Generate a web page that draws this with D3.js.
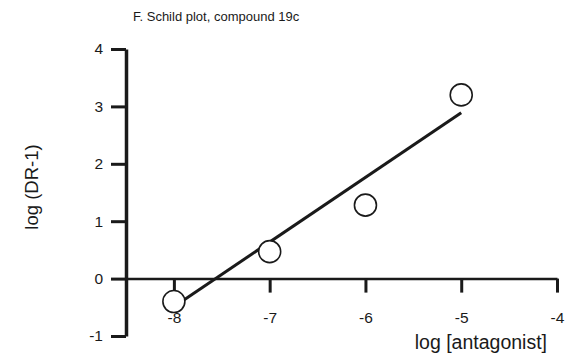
<!DOCTYPE html>
<html>
<head>
<meta charset="utf-8">
<script src="https://cdn.jsdelivr.net/npm/d3@7"></script>
<style>
  body { margin: 0; background: #fff; }
  svg text { font-family: "Liberation Sans", Arial, sans-serif; fill: #1a1a1a; }
</style>
</head>
<body>
<div id="chart"></div>
<script>
// data
const antagonistLog = [-8, -7, -6, -5];
const drValues = [-0.4, 0.47, 1.28, 3.2];
const fitX = [-8, -5];
const fitY = [-0.49, 2.89];
const xTicks = [-8, -7, -6, -5, -4];
const yTicks = [-1, 0, 1, 2, 3, 4];

const drawChart = () => {
  const width = 576;
  const height = 357;
  const plain = d => String(d);

  const x = d3.scaleLinear()
      .domain([-8.5, -4])
      .range([126, 557]);

  const y = d3.scaleLinear()
      .domain([-1, 4])
      .range([336, 49]);

  const svg = d3.select("#chart")
      .append("svg")
      .attr("width", width)
      .attr("height", height);

  svg.append("text")
      .attr("x", 133)
      .attr("y", 21)
      .attr("font-size", 13)
      .text("F. Schild plot, compound 19c");

  const yAxis = svg.append("g")
      .attr("transform", `translate(${x(-8.5)},0)`)
      .call(d3.axisLeft(y).tickValues(yTicks).tickSize(15).tickSizeOuter(0).tickPadding(8).tickFormat(plain));
  yAxis.select(".domain").attr("stroke-width", 3.5).attr("stroke", "#1a1a1a");
  yAxis.selectAll(".tick line").attr("stroke-width", 3).attr("stroke", "#1a1a1a");
  yAxis.selectAll(".tick text").attr("font-size", 15.5).attr("font-family", null);

  const xAxis = svg.append("g")
      .attr("transform", `translate(0,${y(0)})`)
      .call(d3.axisBottom(x).tickValues(xTicks).tickSize(14).tickSizeOuter(0).tickPadding(19).tickFormat(plain));
  xAxis.select(".domain").attr("stroke-width", 2.5).attr("stroke", "#1a1a1a");
  xAxis.selectAll(".tick line").attr("stroke-width", 3).attr("stroke", "#1a1a1a");
  xAxis.selectAll(".tick text").attr("font-size", 15.5).attr("font-family", null);

  svg.append("text")
      .attr("x", 547)
      .attr("y", 349)
      .attr("text-anchor", "end")
      .attr("font-size", 19.5)
      .text("log [antagonist]");

  svg.append("text")
      .attr("transform", "translate(38,187) rotate(-90)")
      .attr("text-anchor", "middle")
      .attr("font-size", 18.5)
      .text("log (DR-1)");

  const line = d3.line()
      .x((d, i) => x(fitX[i]))
      .y(d => y(d));

  svg.append("path")
      .datum(fitY)
      .attr("d", line)
      .attr("fill", "none")
      .attr("stroke", "#1a1a1a")
      .attr("stroke-width", 3);

  svg.selectAll("circle")
      .data(drValues)
      .enter()
      .append("circle")
      .attr("cx", (d, i) => x(antagonistLog[i]))
      .attr("cy", d => y(d))
      .attr("r", 11)
      .attr("fill", "#fff")
      .attr("stroke", "#1a1a1a")
      .attr("stroke-width", 1.6);
};

window.onload = drawChart;
</script>
</body>
</html>
